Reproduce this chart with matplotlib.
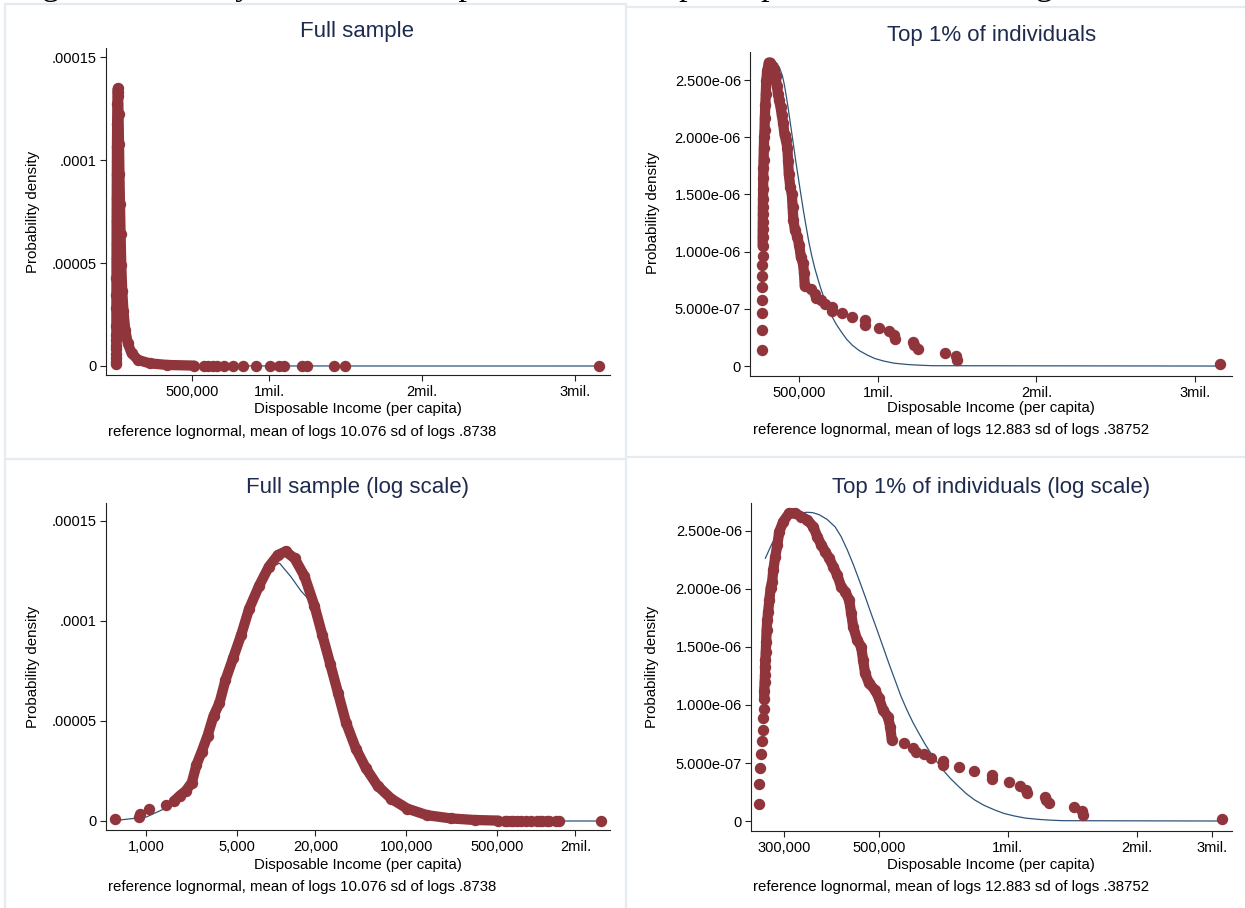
import matplotlib
matplotlib.use("Agg")
import matplotlib.pyplot as plt
from matplotlib.lines import Line2D
from matplotlib.ticker import NullLocator

plt.rcParams['font.family'] = ['Liberation Sans', 'DejaVu Sans']

# full sample: dense part of the density estimate (income, density)
full_band_inc = [1633, 1815, 2015, 2240, 2434, 2666, 2963, 3290, 3656, 4064, 4670, 5372,
                 6180, 7365, 8775, 10300, 11800, 13830, 16480, 19640, 22590, 26000, 29900,
                 34390, 40950, 48830, 60260, 76960, 101800, 144500, 220200, 335000, 510000]
full_band_den = [9.9e-6, 1.27e-5, 1.51e-5, 1.92e-5, 2.81e-5, 3.46e-5, 4.27e-5, 5.25e-5, 5.9e-5,
                 7.04e-5, 8.17e-5, 9.31e-5, 1.061e-4, 1.175e-4, 1.272e-4, 1.33e-4, 1.348e-4,
                 1.313e-4, 1.224e-4, 1.077e-4, 9.31e-5, 7.85e-5, 6.39e-5, 4.92e-5, 3.62e-5,
                 2.65e-5, 1.755e-5, 1.105e-5, 6.2e-6, 2.9e-6, 1.3e-6, 5e-7, 2e-7]
# full sample: isolated observations at both ends
full_dots_inc = [571, 880, 900, 1050, 1420, 572400, 600000, 636000, 661000, 705000, 768000,
                 832000, 918000, 1004000, 1067000, 1101000, 1218000, 1250000, 1425000,
                 1494000, 3160000]
full_dots_den = [8e-7, 1.8e-6, 3.7e-6, 5.85e-6, 8.1e-6, 2e-7, 2e-7, 1.5e-7, 1.5e-7, 1e-7, 1e-7,
                 1e-7, 8e-8, 6e-8, 6e-8, 5e-8, 4e-8, 4e-8, 3e-8, 3e-8, 1e-8]
# full sample: reference lognormal
full_ref_inc = [571, 1000, 1420, 2015, 2666, 3290, 4064, 5372, 7365, 8775, 10600, 13000, 15500,
                17660, 19640, 22590, 26000, 29900, 34390, 40950, 48830, 60260, 76960, 101800,
                144500, 220200, 335000, 600000, 1000000, 1500000, 3160000]
full_ref_den = [2e-7, 2.0e-6, 6.5e-6, 1.45e-5, 3.3e-5, 5.1e-5, 6.9e-5, 9.2e-5, 1.165e-4,
                1.265e-4, 1.289e-4, 1.22e-4, 1.15e-4, 1.11e-4, 1.06e-4, 9.2e-5, 7.75e-5,
                6.35e-5, 4.95e-5, 3.65e-5, 2.65e-5, 1.75e-5, 1.1e-5, 6.0e-6, 2.8e-6, 1.2e-6,
                4e-7, 1e-7, 3e-8, 1e-8, 0]

# top 1%: dense part
top_band_inc = [269600, 269600, 270200, 270800, 270800, 271300, 271900, 272500, 273100, 274200,
                275400, 277200, 279000, 281400, 283100, 286200, 289300, 292400, 298700, 308500,
                318600, 329100, 339800, 351000, 358600, 366400, 374300, 382400, 390700, 399200,
                407900, 416700, 425800, 430400, 435000, 444500, 454200, 458900, 463900, 473900,
                489500, 500000, 510800, 524200, 531000, 535600]
top_band_den = [1.049e-6, 1.124e-6, 1.201e-6, 1.259e-6, 1.331e-6, 1.388e-6, 1.46e-6, 1.546e-6,
                1.647e-6, 1.733e-6, 1.805e-6, 1.905e-6, 2.006e-6, 2.064e-6, 2.164e-6, 2.279e-6,
                2.38e-6, 2.495e-6, 2.581e-6, 2.653e-6, 2.653e-6, 2.624e-6, 2.595e-6, 2.538e-6,
                2.452e-6, 2.38e-6, 2.322e-6, 2.265e-6, 2.193e-6, 2.121e-6, 2.02e-6, 1.977e-6,
                1.905e-6, 1.79e-6, 1.676e-6, 1.561e-6, 1.503e-6, 1.388e-6, 1.273e-6, 1.187e-6,
                1.129e-6, 1.058e-6, 9.57e-7, 9.0e-7, 8.13e-7, 6.98e-7]
# top 1%: isolated observations
top_dots_inc = [262800, 262800, 264000, 265500, 267000, 268400, 268400, 269000, 572400, 600000,
                609000, 636000, 661000, 705000, 705000, 768000, 832000, 918000, 918000, 1004000,
                1067000, 1101000, 1106000, 1218000, 1226000, 1250000, 1425000, 1494000, 1500000,
                3160000]
top_dots_den = [1.44e-7, 3.19e-7, 4.6e-7, 5.78e-7, 6.9e-7, 7.85e-7, 8.85e-7, 9.63e-7, 6.7e-7,
                6.32e-7, 5.98e-7, 5.78e-7, 5.46e-7, 5.17e-7, 4.83e-7, 4.63e-7, 4.28e-7, 4.0e-7,
                3.62e-7, 3.33e-7, 3.02e-7, 2.67e-7, 2.39e-7, 2.1e-7, 1.81e-7, 1.52e-7, 1.18e-7,
                8.9e-8, 5.2e-8, 2.0e-8]
# top 1%: reference lognormal
top_ref_inc = [271300, 280200, 292400, 302000, 311900, 326000, 339800, 350000, 362400, 378000,
               394900, 408000, 421200, 435000, 449200, 464000, 479000, 495000, 510800, 527000,
               544800, 562000, 581000, 600000, 619600, 640000, 661000, 683000, 705000, 735000,
               768000, 800000, 837000, 880000, 932000, 980000, 1037000, 1100000, 1180000,
               1250000, 1342000, 3160000]
top_ref_den = [2.265e-6, 2.38e-6, 2.51e-6, 2.585e-6, 2.632e-6, 2.655e-6, 2.661e-6, 2.658e-6,
               2.64e-6, 2.6e-6, 2.535e-6, 2.45e-6, 2.34e-6, 2.215e-6, 2.078e-6, 1.935e-6,
               1.79e-6, 1.645e-6, 1.503e-6, 1.36e-6, 1.216e-6, 1.08e-6, 9.57e-7, 8.5e-7,
               7.56e-7, 6.65e-7, 5.83e-7, 5.1e-7, 4.4e-7, 3.65e-7, 2.96e-7, 2.35e-7, 1.81e-7,
               1.35e-7, 9.5e-8, 6.5e-8, 4.3e-8, 2.5e-8, 1.4e-8, 8e-9, 3e-9, 0]

lin_ticks = [500000, 1000000, 2000000, 3000000]
lin_labels = ['500,000', '1mil.', '2mil.', '3mil.']
full_log_ticks = [1000, 5000, 20000, 100000, 500000, 2000000]
full_log_labels = ['1,000', '5,000', '20,000', '100,000', '500,000', '2mil.']
top_log_ticks = [300000, 500000, 1000000, 2000000, 3000000]
top_log_labels = ['300,000', '500,000', '1mil.', '2mil.', '3mil.']
full_yticks = [0, 5e-5, 1e-4, 1.5e-4]
full_ylabels = ['0', '.00005', '.0001', '.00015']
top_yticks = [0, 5e-7, 1e-6, 1.5e-6, 2e-6, 2.5e-6]
top_ylabels = ['0', '5.000e-07', '1.000e-06', '1.500e-06', '2.000e-06', '2.500e-06']

MAROON = '#90353b'
NAVY = '#2f5479'
TITLE = '#1e2b4e'
FRAME = '#e5ecf1'

W, H = 1245, 908
fig = plt.figure(figsize=(W / 100, H / 100), dpi=100)
fig.patch.set_facecolor('white')


def px(x, y):
    return x / W, 1 - y / H


def put(x, y, s, **kw):
    fx, fy = px(x, y)
    fig.text(fx, fy, s, **kw)


def panel(l, t, r, b):
    return fig.add_axes([l / W, 1 - b / H, (r - l) / W, (b - t) / H])


def density_panel(ax, band, dots, ref, xlim, ylim, xt, xl, yt, yl, log=False):
    if log:
        ax.set_xscale('log')
    # reference line sits under the markers
    ax.plot(ref[0], ref[1], color=NAVY, lw=0.9, zorder=2)
    ax.plot(band[0], band[1], color=MAROON, lw=7.4, solid_capstyle='round',
            solid_joinstyle='round', zorder=3)
    ax.plot(band[0], band[1], 'o', ms=7.2, color=MAROON, mec=MAROON, zorder=3)
    ax.plot(dots[0], dots[1], 'o', ms=7.2, color=MAROON, mec=MAROON, zorder=3)
    ax.set_xlim(*xlim)
    ax.set_ylim(*ylim)
    ax.set_xticks(xt)
    ax.set_xticklabels(xl)
    ax.xaxis.set_minor_locator(NullLocator())
    ax.set_yticks(yt)
    ax.set_yticklabels(yl)
    for side in ['top', 'right']:
        ax.spines[side].set_visible(False)
    for side in ['left', 'bottom']:
        ax.spines[side].set_linewidth(0.8)
        ax.spines[side].set_color('#222222')
    ax.tick_params(axis='both', direction='out', length=4, width=0.8, color='#222222',
                   labelsize=10.5)
    ax.tick_params(axis='x', pad=3.5)
    ax.tick_params(axis='y', pad=2.5)
    ax.set_facecolor('none')


# panel frames
for (x0, y0, x1, y1) in [(5, 4, 626, 4), (626, 7, 1245, 7), (5, 4, 5, 908), (626, 4, 626, 908),
                         (5, 458.5, 626, 458.5), (626, 456.5, 1245, 456.5)]:
    a, b = px(x0, y0)
    c, d = px(x1, y1)
    fig.add_artist(Line2D([a, c], [b, d], color=FRAME, lw=1.6))

# caption line above the panels, mostly outside the canvas
fx, fy = px(14, -5)
fig.text(fx, fy, 'Figure 5: Density function of disposable income per capita, '
         'levels and in logs', family='Liberation Serif', fontsize=24.5,
         va='baseline', ha='left', color='black', zorder=0)

full = (full_band_inc, full_band_den)
full_d = (full_dots_inc, full_dots_den)
full_r = (full_ref_inc, full_ref_den)
top = (top_band_inc, top_band_den)
top_d = (top_dots_inc, top_dots_den)
top_r = (top_ref_inc, top_ref_den)

# top left: full sample, linear
ax1 = panel(106, 48, 610, 375)
density_panel(ax1, full, full_d, full_r, (-65400, 3229000), (-4.37e-6, 1.544e-4),
              lin_ticks, lin_labels, full_yticks, full_ylabels)
# top right: top 1%, linear
ax2 = panel(750, 52, 1232, 376)
density_panel(ax2, top, top_d, top_r, (189600, 3236000), (-8.7e-8, 2.745e-6),
              lin_ticks, lin_labels, top_yticks, top_ylabels)
# bottom left: full sample, log
ax3 = panel(106, 503, 610, 830)
density_panel(ax3, full, full_d, full_r, (490, 3690000), (-4.5e-6, 1.59e-4),
              full_log_ticks, full_log_labels, full_yticks, full_ylabels, log=True)
# bottom right: top 1%, log
ax4 = panel(751, 503, 1232, 831)
density_panel(ax4, top, top_d, top_r, (251100, 3340000), (-8.6e-8, 2.741e-6),
              top_log_ticks, top_log_labels, top_yticks, top_ylabels, log=True)

titles = [(357, 31, 'Full sample'), (992, 35, 'Top 1% of individuals'),
          (358, 487, 'Full sample (log scale)'), (991, 487, 'Top 1% of individuals (log scale)')]
for x, y, s in titles:
    put(x, y, s, fontsize=16, color=TITLE, ha='center', va='center')

for x, y in [(358, 409), (991, 408), (358, 865), (991, 865)]:
    put(x, y, 'Disposable Income (per capita)', fontsize=10.8, ha='center', va='center')

for x, y in [(33, 212), (653, 213), (33, 667), (652, 667)]:
    put(x, y, 'Probability density', fontsize=10.8, rotation=90, ha='center', va='center')

notes = [(108, 432, 'reference lognormal, mean of logs 10.076 sd of logs .8738'),
         (753, 430, 'reference lognormal, mean of logs 12.883 sd of logs .38752'),
         (108, 887, 'reference lognormal, mean of logs 10.076 sd of logs .8738'),
         (753, 887, 'reference lognormal, mean of logs 12.883 sd of logs .38752')]
for x, y, s in notes:
    put(x, y, s, fontsize=10.8, ha='left', va='center')

fig.savefig('out.png', dpi=100)
